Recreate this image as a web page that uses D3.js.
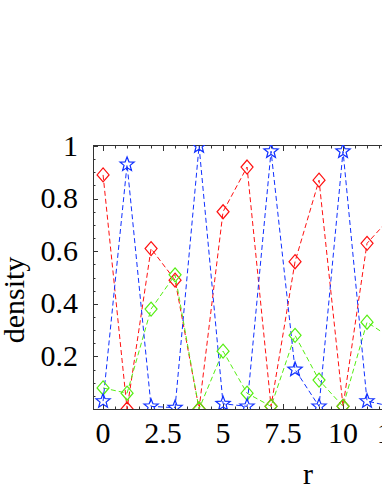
<!DOCTYPE html>
<html><head><meta charset="utf-8">
<script src="https://cdn.jsdelivr.net/npm/d3@7"></script>
<style>body{margin:0;background:#fff;overflow:hidden}svg{display:block}</style>
</head><body>
<svg id="c" width="382" height="494"></svg>
<script>
const r = [0,1,2,3,4,5,6,7,8,9,10,11,12];
const redVals   = [0.89,0.00,0.61,0.49,0.00,0.75,0.92,0.01,0.56,0.87,0.01,0.63,0.73];
const greenVals = [0.08,0.06,0.38,0.51,0.00,0.22,0.06,0.01,0.28,0.11,0.01,0.33,0.27];
const blueVals  = [0.03,0.93,0.01,0.005,1.00,0.02,0.01,0.98,0.15,0.01,0.98,0.03,0.01];
const xTicks = [0,2.5,5,7.5,10,12.5,15,17.5];
const yTicks = [0.2,0.4,0.6,0.8,1];
const xLabel = "r", yLabel = "density";

const svg = d3.select("#c");
const L=93, T=146, B=409, R=523;
const x = d3.scaleLinear().domain([-0.42,17.5]).range([L,R]);
const y = d3.scaleLinear().domain([0,1]).range([B,T]);

svg.append("defs").append("clipPath").attr("id","clip")
  .append("rect").attr("x",L).attr("y",T-1).attr("width",R-L).attr("height",B-T+1);

const font = "'Liberation Serif','Times New Roman',serif";
const FS = 30;
const frame = svg.append("g").attr("stroke","#333").attr("stroke-width",1).attr("fill","none");
frame.append("rect").attr("x",L+0.5).attr("y",T-0.5).attr("width",R-L).attr("height",B-T+1);

const tg = svg.append("g").attr("stroke","#333").attr("stroke-width",1);
d3.range(0,17.6,0.5).forEach(v=>{
  const major = Math.abs(v/2.5-Math.round(v/2.5))<1e-6;
  const len = major?5:2.5, px = Math.round(x(v))+0.5;
  tg.append("line").attr("x1",px).attr("x2",px).attr("y1",B).attr("y2",B-len);
  tg.append("line").attr("x1",px).attr("x2",px).attr("y1",T).attr("y2",T+len);
});
d3.range(0.05,1.0001,0.05).forEach(v=>{
  const major = Math.abs(v/0.2-Math.round(v/0.2))<1e-6;
  const len = major?5:2.5, py = Math.round(y(v))+0.5;
  tg.append("line").attr("x1",L).attr("x2",L+len).attr("y1",py).attr("y2",py);
});

svg.append("g").selectAll("text").data(xTicks).join("text")
  .attr("x",d=>x(d)).attr("y",443).attr("text-anchor","middle")
  .attr("font-family",font).attr("font-size",FS).text(d=>d);
svg.append("g").selectAll("text").data(yTicks).join("text")
  .attr("x",78).attr("y",d=>y(d)+9.5).attr("text-anchor","end")
  .attr("font-family",font).attr("font-size",FS).text(d=>d);
svg.append("text").attr("x",308).attr("y",484).attr("text-anchor","middle")
  .attr("font-family",font).attr("font-size",FS).text(xLabel);
svg.append("text").attr("transform","translate(24,300) rotate(-90)").attr("text-anchor","middle")
  .attr("font-family",font).attr("font-size",FS).text(yLabel);

const plot = svg.append("g").attr("clip-path","url(#clip)");
const line = d3.line().x((d,i)=>x(r[i])).y(d=>y(d));
const series = [
  {vals:redVals, color:"#ff1010", mark:"diamond"},
  {vals:greenVals, color:"#55ee11", mark:"diamond"},
  {vals:blueVals, color:"#1030ff", mark:"star"}
];
const diamond = "M0,-7L6,0L0,7L-6,0Z";
const star = (()=>{const p=[];for(let k=0;k<10;k++){const a=-Math.PI/2+k*Math.PI/5;const rr=k%2?3.2:7.5;p.push([rr*Math.cos(a),rr*Math.sin(a)]);}return "M"+p.map(q=>q[0].toFixed(2)+","+q[1].toFixed(2)).join("L")+"Z";})();
series.forEach(s=>{
  plot.append("path").attr("d",line(s.vals)).attr("fill","none")
    .attr("stroke",s.color).attr("stroke-width",1).attr("stroke-dasharray","5,3");
});
series.forEach(s=>{
  plot.append("g").selectAll("path").data(s.vals).join("path")
    .attr("transform",(d,i)=>`translate(${x(r[i])},${y(d)})`)
    .attr("d",s.mark==="star"?star:diamond)
    .attr("fill","none").attr("stroke",s.color).attr("stroke-width",1.2);
});
</script>
</body></html>
